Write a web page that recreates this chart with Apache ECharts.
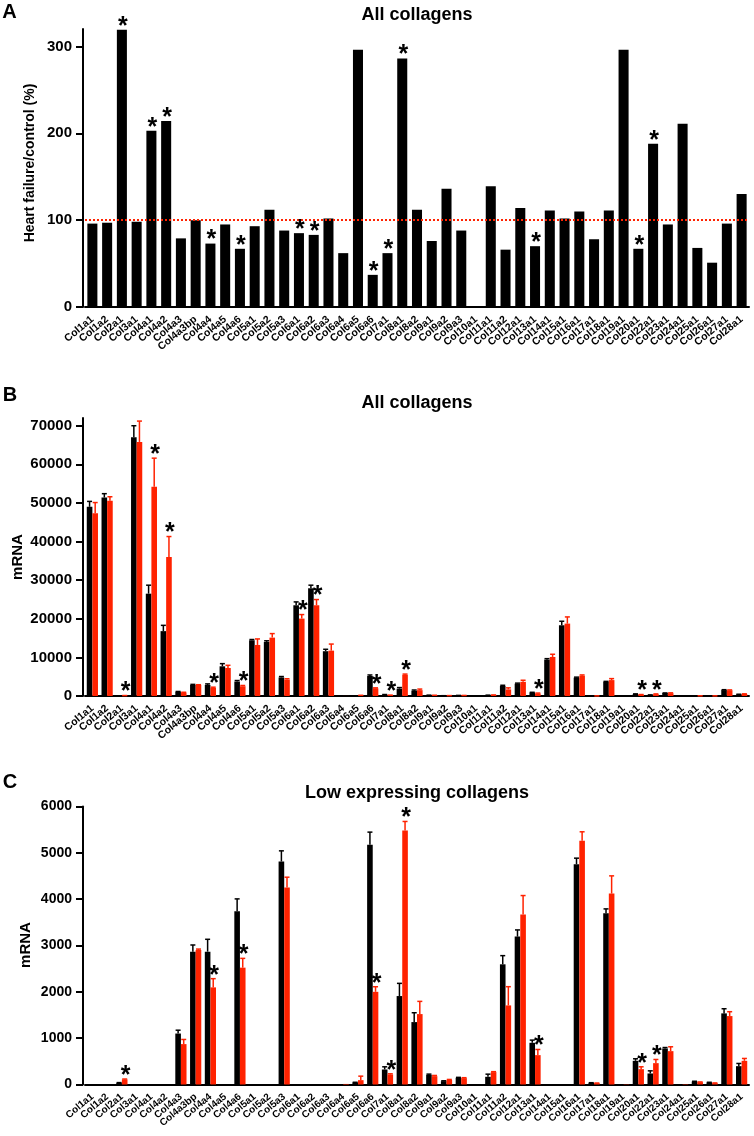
<!DOCTYPE html>
<html>
<head>
<meta charset="utf-8">
<title>Collagen expression</title>
<script src="https://cdn.jsdelivr.net/npm/echarts@6.0.0/dist/echarts.min.js"></script>
<style>
    html, body { margin: 0; padding: 0; background: #fff; }
    #main { width: 754px; height: 1136px; }
</style>
</head>
<body>
<div id="main"></div>
<script>
// Collagen genes, same order in all three panels
const categories = [
    "Col1a1", "Col1a2", "Col2a1", "Col3a1", "Col4a1", "Col4a2", "Col4a3", "Col4a3bp",
    "Col4a4", "Col4a5", "Col4a6", "Col5a1", "Col5a2", "Col5a3", "Col6a1", "Col6a2",
    "Col6a3", "Col6a4", "Col6a5", "Col6a6", "Col7a1", "Col8a1", "Col8a2", "Col9a1",
    "Col9a2", "Col9a3", "Col10a1", "Col11a1", "Col11a2", "Col12a1", "Col13a1", "Col14a1",
    "Col15a1", "Col16a1", "Col17a1", "Col18a1", "Col19a1", "Col20a1", "Col22a1", "Col23a1",
    "Col24a1", "Col25a1", "Col26a1", "Col27a1", "Col28a1"
];

// Panel A: heart failure / control (%)
const ratioPercent = [
    96, 97, 319, 98, 203, 214, 79, 100,
    73, 95, 67, 93, 112, 88, 85, 83,
    102, 62, 296, 37, 62, 286, 112, 76,
    136, 88, 0, 139, 66, 114, 70, 111,
    102, 110, 78, 111, 296, 67, 188, 95,
    211, 68, 51, 96, 130
];

// Panels B and C: mRNA, control (black) and heart failure (red), mean and SEM
const controlMean = [
    49000, 51400, 36, 67000, 26500, 16800, 1100, 2867,
    2867, 7690, 3739, 14430, 14000, 4813, 23500, 27900,
    11600, 3, 43, 5173, 324, 1909, 1347, 209,
    72, 144, 0, 166, 2594, 3192, 900, 9420,
    18320, 4755, 36, 3696, 2, 511, 238, 778,
    4, 65, 43, 1535, 396
];
const controlSem = [
    1400, 1000, 5, 3000, 2200, 1500, 72, 144,
    267, 690, 267, 200, 300, 230, 870, 800,
    500, 0, 5, 274, 58, 274, 202, 15,
    8, 10, 0, 57, 187, 144, 58, 250,
    1040, 130, 3, 94, 0, 44, 57, 20,
    0, 5, 5, 100, 58
];
const failureMean = [
    47300, 50600, 108, 65800, 54200, 36000, 872, 2903,
    2096, 7260, 2522, 13220, 15120, 4251, 20050, 23500,
    11750, 12, 94, 2000, 216, 5483, 1520, 180,
    101, 137, 0, 267, 1707, 3667, 634, 10110,
    18750, 5259, 29, 4121, 6, 331, 461, 720,
    8, 50, 29, 1477, 511
];
const failureSem = [
    2800, 1000, 10, 5400, 7400, 5300, 100, 20,
    188, 690, 200, 1560, 1040, 223, 1040, 1480,
    1700, 0, 86, 110, 15, 194, 274, 15,
    8, 10, 0, 10, 404, 411, 122, 700,
    1730, 195, 3, 382, 0, 51, 79, 94,
    0, 5, 5, 94, 51
];

// Significant differences (*)
const starred = [
    "Col2a1", "Col4a1", "Col4a2", "Col4a4", "Col4a6", "Col6a1", "Col6a2",
    "Col6a6", "Col7a1", "Col8a1", "Col13a1", "Col20a1", "Col22a1"
];

// Left out of panel C
const highExpressing = [
    "Col1a1", "Col1a2", "Col3a1", "Col4a1", "Col4a2", "Col4a5", "Col5a1",
    "Col5a2", "Col6a1", "Col6a2", "Col6a3", "Col14a1", "Col15a1"
];

// Tick labels
const ticksA = [0, 100, 200, 300];
const ticksB = [0, 10000, 20000, 30000, 40000, 50000, 60000, 70000];
const ticksC = [0, 1000, 2000, 3000, 4000, 5000, 6000];

document.addEventListener("DOMContentLoaded", function () {
    const FONT = '"Liberation Sans", Arial, sans-serif';
    const RED = "#ff2200";
    const BLACK = "#000000";

    var chart = echarts.init(document.getElementById("main"), null, { renderer: "canvas" });

    // panel C only keeps the low expressing genes
    function lowOnly(values) {
        return values.map(function (v, i) {
            return highExpressing.includes(categories[i]) ? null : v;
        });
    }

    function xAxisFor(gridIndex, labelSize) {
        return {
            type: "category",
            gridIndex: gridIndex,
            data: categories,
            axisLine: { lineStyle: { color: BLACK, width: 2 } },
            axisTick: { alignWithLabel: true, length: 8, lineStyle: { color: BLACK, width: 2 } },
            axisLabel: {
                interval: 0, rotate: 40, margin: 11,
                color: BLACK, fontFamily: FONT, fontWeight: "bold", fontSize: labelSize
            }
        };
    }

    function yAxisFor(gridIndex, max, ticks, labelSize) {
        return {
            type: "value",
            gridIndex: gridIndex,
            min: 0,
            max: max,
            offset: 2,
            splitLine: { show: false },
            axisLine: { show: true, lineStyle: { color: BLACK, width: 2 } },
            axisTick: { show: true, length: 7, customValues: ticks, lineStyle: { color: BLACK, width: 2 } },
            axisLabel: {
                customValues: ticks, margin: 11,
                formatter: function (v) { return String(v); },
                color: BLACK, fontFamily: FONT, fontWeight: "bold", fontSize: labelSize
            }
        };
    }

    // Error bars (upper only) and the star above the red bar
    function errorSeries(gridIndex, means, sems, color, shift, withStar) {
        var data = means.map(function (m, i) {
            return [i, m, sems[i], starred.includes(categories[i]) ? 1 : 0];
        });
        return {
            type: "custom",
            xAxisIndex: gridIndex,
            yAxisIndex: gridIndex,
            z: 5,
            data: data,
            encode: { x: 0, y: 1 },
            renderItem: function (params, api) {
                var mean = api.value(1);
                if (mean === null || isNaN(mean)) {
                    return null;
                }
                var sem = api.value(2);
                var band = api.size([1, 0])[0];
                var base = api.coord([api.value(0), mean]);
                var top = api.coord([api.value(0), mean + sem]);
                var x = top[0] + shift * band;
                var children = [];
                if (sem > 0) {
                    children.push({
                        type: "line",
                        shape: { x1: x, y1: base[1], x2: x, y2: top[1] },
                        style: { stroke: color, lineWidth: 1.5 }
                    });
                    children.push({
                        type: "line",
                        shape: { x1: x - 2.5, y1: top[1], x2: x + 2.5, y2: top[1] },
                        style: { stroke: color, lineWidth: 1.5 }
                    });
                }
                if (withStar && api.value(3)) {
                    children.push({
                        type: "text",
                        x: x + 1,
                        y: top[1] - 3,
                        style: {
                            text: "*", fill: BLACK, font: "bold 25px " + FONT,
                            align: "center", verticalAlign: "middle"
                        }
                    });
                }
                return { type: "group", children: children };
            }
        };
    }

    function label(text, x, y, size, rotate) {
        return {
            type: "text",
            x: x, y: y,
            rotation: rotate ? Math.PI / 2 : 0,
            style: {
                text: text, fill: BLACK, font: "bold " + size + "px " + FONT,
                align: "center", verticalAlign: "middle"
            }
        };
    }

    var option = {
        animation: false,
        backgroundColor: "#ffffff",
        grid: [
            { left: 85, right: 5, top: 29, height: 278 },
            { left: 85, right: 5, top: 418, height: 278 },
            { left: 85, right: 5, top: 806.5, height: 278 }
        ],
        xAxis: [xAxisFor(0, 10.5), xAxisFor(1, 10.5), xAxisFor(2, 10)],
        yAxis: [yAxisFor(0, 320, ticksA, 15), yAxisFor(1, 72000, ticksB, 15), yAxisFor(2, 6000, ticksC, 14)],
        graphic: [
            label("A", 9.5, 12.5, 20),
            label("B", 10, 395, 20),
            label("C", 10, 782, 20),
            label("All collagens", 417, 15, 18),
            label("All collagens", 417, 403, 18),
            label("Low expressing collagens", 417, 793, 18),
            label("Heart failure/control (%)", 30, 163, 14, true),
            label("mRNA", 18, 557, 15, true),
            label("mRNA", 26, 945, 15, true)
        ],
        series: [
            // Panel A
            {
                type: "bar", xAxisIndex: 0, yAxisIndex: 0,
                data: ratioPercent, barWidth: "68%",
                itemStyle: { color: BLACK },
                markLine: {
                    silent: true, symbol: "none", label: { show: false },
                    lineStyle: { color: RED, type: "dotted", width: 2 },
                    data: [{ yAxis: 100 }]
                }
            },
            errorSeries(0, ratioPercent, ratioPercent.map(function () { return 0; }), BLACK, 0, true),

            // Panel B
            {
                type: "bar", xAxisIndex: 1, yAxisIndex: 1,
                data: controlMean, barWidth: "38%", barGap: "0%",
                itemStyle: { color: BLACK }
            },
            {
                type: "bar", xAxisIndex: 1, yAxisIndex: 1,
                data: failureMean, barWidth: "38%", barGap: "0%",
                itemStyle: { color: RED }
            },
            errorSeries(1, controlMean, controlSem, BLACK, -0.19, false),
            errorSeries(1, failureMean, failureSem, RED, 0.19, true),

            // Panel C
            {
                type: "bar", xAxisIndex: 2, yAxisIndex: 2,
                data: lowOnly(controlMean), barWidth: "38%", barGap: "0%",
                itemStyle: { color: BLACK }
            },
            {
                type: "bar", xAxisIndex: 2, yAxisIndex: 2,
                data: lowOnly(failureMean), barWidth: "38%", barGap: "0%",
                itemStyle: { color: RED }
            },
            errorSeries(2, lowOnly(controlMean), controlSem, BLACK, -0.19, false),
            errorSeries(2, lowOnly(failureMean), failureSem, RED, 0.19, true)
        ]
    };

    chart.setOption(option);
});
</script>
</body>
</html>
